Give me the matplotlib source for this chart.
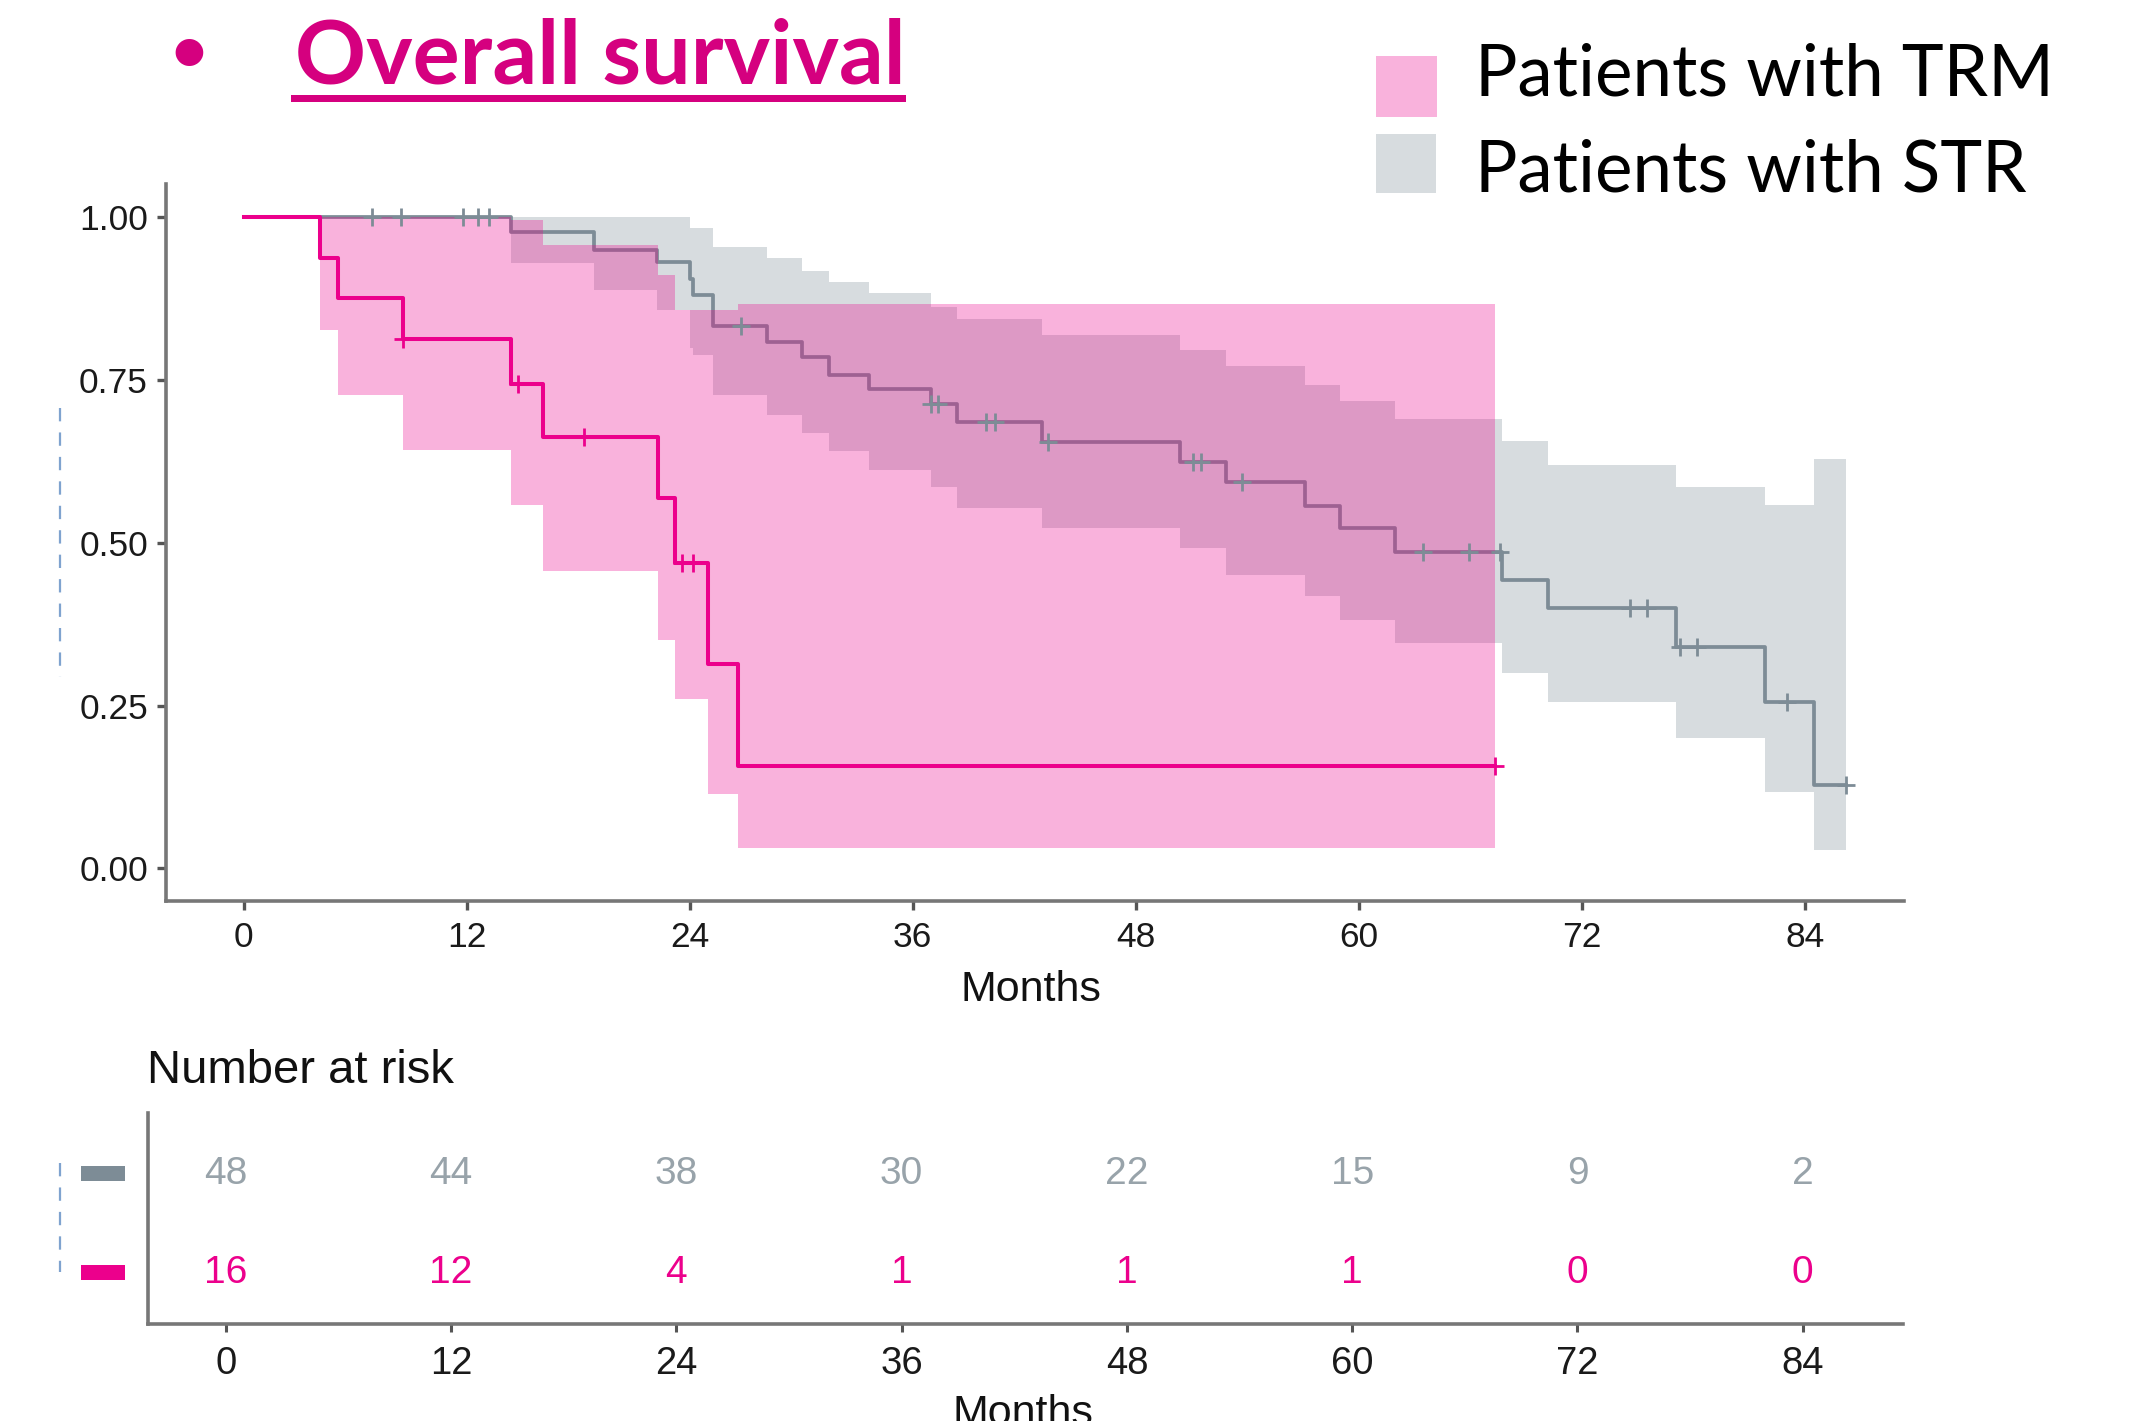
import matplotlib
matplotlib.use('Agg')
import matplotlib.pyplot as plt
from matplotlib.patches import Rectangle
from matplotlib.lines import Line2D
import numpy as np

# ---------------- data ----------------
# Patients with STR (gray)
str_times = [0, 14.37, 18.87, 22.26, 24.02, 24.2, 25.27, 28.14, 30.03, 31.51, 33.66, 36.98,
             38.36, 42.94, 50.38, 52.85, 57.1, 58.98, 61.94, 67.68, 70.18, 77.08, 81.83, 84.48]
str_surv = [1.0, 0.977, 0.950, 0.932, 0.906, 0.881, 0.8325, 0.808, 0.786, 0.758, 0.736, 0.714,
            0.685, 0.655, 0.625, 0.594, 0.557, 0.5226, 0.4867, 0.443, 0.400, 0.3406, 0.256, 0.128]
str_upper = [1.0, 1.0, 1.0, 1.0, 0.984, 0.984, 0.9545, 0.9376, 0.918, 0.9007, 0.884, 0.862,
             0.844, 0.8197, 0.797, 0.772, 0.743, 0.718, 0.6906, 0.657, 0.620, 0.586, 0.558, 0.629]
str_lower = [1.0, 0.930, 0.889, 0.858, 0.800, 0.789, 0.7275, 0.697, 0.6686, 0.6404, 0.6122, 0.5866,
             0.5533, 0.5226, 0.4918, 0.4508, 0.419, 0.3816, 0.3458, 0.3007, 0.256, 0.1998, 0.1178, 0.028]
str_end = 86.18
str_cens_t = [6.9, 8.45, 11.8, 12.6, 13.2, 26.74, 37.0, 37.38, 39.92, 40.42, 43.3, 51.1, 51.5,
              53.7, 63.45, 65.95, 67.6, 74.57, 75.51, 77.3, 78.2, 83.02, 86.18]

# Patients with TRM (magenta)
trm_times = [0, 4.11, 5.10, 8.60, 14.37, 16.09, 22.31, 23.21, 24.97, 26.58]
trm_surv = [1.0, 0.9376, 0.8755, 0.813, 0.744, 0.6625, 0.5697, 0.4698, 0.314, 0.157]
trm_upper = [1.0, 1.0, 1.0, 1.0, 0.996, 0.957, 0.912, 0.858, 0.858, 0.867]
trm_lower = [1.0, 0.827, 0.7275, 0.643, 0.558, 0.457, 0.351, 0.260, 0.114, 0.031]
trm_end = 67.3
trm_cens_t = [8.6, 14.79, 18.32, 23.57, 24.2, 67.3]

# Number at risk
risk_times = [0, 12, 24, 36, 48, 60, 72, 84]
risk_str = [48, 44, 38, 30, 22, 15, 9, 2]
risk_trm = [16, 12, 4, 1, 1, 1, 0, 0]

x_ticks = [0, 12, 24, 36, 48, 60, 72, 84]
y_ticks = [0.0, 0.25, 0.50, 0.75, 1.00]

title_text = "Overall survival"
legend_labels = ["Patients with TRM", "Patients with STR"]

# ---------------- style ----------------
TRM_C = '#EC008C'
STR_C = '#7D8C96'
STR_NUM_C = '#98A3AA'
TITLE_C = '#D5007F'
AX_C = '#777777'
W, H = 2133, 1421
DPI = 100

plt.rcParams['font.family'] = ['Liberation Sans', 'DejaVu Sans']

fig = plt.figure(figsize=(W / DPI, H / DPI), dpi=DPI)


def fx(x):
    return x / W


def fy(y):
    return 1 - y / H


# ---------------- main KM axes ----------------
ax = fig.add_axes([fx(166), fy(900.5), (1903.5 - 166) / W, (900.5 - 183.6) / H])
ax.set_xlim(-4.17, 89.3)
ax.set_ylim(-0.0495, 1.052)


def ext(t, v, end):
    return list(t) + [end], list(v) + [v[-1]]


def step_at(times, vals, q):
    idx = np.searchsorted(np.array(times), np.array(q), side='right') - 1
    return np.array(vals)[idx]


# STR ribbon + line
tx, lo = ext(str_times, str_lower, str_end)
_, up = ext(str_times, str_upper, str_end)
_, sv = ext(str_times, str_surv, str_end)
ax.fill_between(tx, lo, up, step='post', color=STR_C, alpha=0.3, lw=0, zorder=1)
ax.step(tx, sv, where='post', color=STR_C, lw=2.7, zorder=2)

# TRM ribbon + line
tx2, lo2 = ext(trm_times, trm_lower, trm_end)
_, up2 = ext(trm_times, trm_upper, trm_end)
_, sv2 = ext(trm_times, trm_surv, trm_end)
ax.fill_between(tx2, lo2, up2, step='post', color=TRM_C, alpha=0.3, lw=0, zorder=3)
ax.step(tx2, sv2, where='post', color=TRM_C, lw=2.9, zorder=4)

# censor marks
ax.plot(str_cens_t, step_at(str_times, str_surv, str_cens_t), ls='none', marker='+',
        ms=13, mew=2.0, color=STR_C, zorder=5)
ax.plot(trm_cens_t, step_at(trm_times, trm_surv, trm_cens_t), ls='none', marker='+',
        ms=13, mew=2.0, color=TRM_C, zorder=6)

ax.set_xticks(x_ticks)
ax.set_xticklabels([str(v) for v in x_ticks])
ax.set_yticks(y_ticks)
ax.set_yticklabels(['%.2f' % v for v in y_ticks])
for s in ['top', 'right']:
    ax.spines[s].set_visible(False)
for s in ['left', 'bottom']:
    ax.spines[s].set_color(AX_C)
    ax.spines[s].set_linewidth(2.6)
ax.tick_params(axis='both', labelsize=25.5, length=6.5, width=2.4, color='#555555',
               labelcolor='#1a1a1a')
ax.tick_params(axis='x', pad=8)
ax.tick_params(axis='y', pad=6.5)

fig.text(fx(1031), fy(990), "Months", ha='center', va='center', fontsize=31, color='#111111')

# ---------------- risk table ----------------
axt = fig.add_axes([fx(148), fy(1324), (1903 - 148) / W, (1324 - 1113) / H])
axt.set_xlim(-4.14, 89.34)
axt.set_ylim(0.485, 2.616)
for t, n in zip(risk_times, risk_str):
    axt.text(t, 2, str(n), ha='center', va='center', fontsize=28, color=STR_NUM_C)
for t, n in zip(risk_times, risk_trm):
    axt.text(t, 1, str(n), ha='center', va='center', fontsize=28, color=TRM_C)
axt.set_xticks(x_ticks)
axt.set_xticklabels([str(v) for v in x_ticks])
axt.set_yticks([])
for s in ['top', 'right']:
    axt.spines[s].set_visible(False)
for s in ['left', 'bottom']:
    axt.spines[s].set_color(AX_C)
    axt.spines[s].set_linewidth(2.6)
axt.tick_params(axis='x', labelsize=27.5, length=5.5, width=2.2, color='#555555',
                labelcolor='#1a1a1a', pad=10.5)

fig.text(fx(147), fy(1070.6), "Number at risk", ha='left', va='center', fontsize=34, color='#111111')
fig.text(fx(1023), fy(1414), "Months", ha='center', va='center', fontsize=31, color='#111111')

# strata colour strips
fig.add_artist(Rectangle((fx(81), fy(1181)), 44 / W, 15 / H, transform=fig.transFigure,
                         color=STR_C, lw=0))
fig.add_artist(Rectangle((fx(81), fy(1280)), 44 / W, 15 / H, transform=fig.transFigure,
                         color=TRM_C, lw=0))

# faint dashed artifacts at left
fig.add_artist(Line2D([fx(60), fx(60)], [fy(408), fy(677)], transform=fig.transFigure,
                      color='#7FA3CF', lw=1.6, ls=(0, (6, 5))))
fig.add_artist(Line2D([fx(60), fx(60)], [fy(1163), fy(1272)], transform=fig.transFigure,
                      color='#7FA3CF', lw=1.6, ls=(0, (6, 5))))

# ---------------- title & legend ----------------
title = fig.text(fx(295), fy(83.5), title_text, ha='left', va='baseline', fontsize=60,
                 fontweight='bold', family=['Lato', 'DejaVu Sans'], color=TITLE_C)
bullet = fig.text(fx(189), fy(71), "\u2022", ha='center', va='baseline', fontsize=40,
                  fontweight='bold', family=['Lato', 'DejaVu Sans'], color=TITLE_C)
leg1 = fig.text(fx(1475), fy(95), legend_labels[0], ha='left', va='baseline', fontsize=45,
                family=['Lato', 'DejaVu Sans'], color='black')
leg2 = fig.text(fx(1475), fy(191.7), legend_labels[1], ha='left', va='baseline', fontsize=45,
                family=['Lato', 'DejaVu Sans'], color='black')


def fit_width(t, target):
    for _ in range(2):
        fig.canvas.draw()
        r = fig.canvas.get_renderer()
        bb = t.get_window_extent(r)
        t.set_fontsize(t.get_fontsize() * target / bb.width)


fit_width(title, 611)
bullet.set_fontsize(title.get_fontsize() * 0.72)
fit_width(leg1, 579)
leg2.set_fontsize(leg1.get_fontsize())

# underline
fig.add_artist(Rectangle((fx(291), fy(101.7)), (906 - 291) / W, 6.7 / H,
                         transform=fig.transFigure, color=TITLE_C, lw=0))

# legend squares
fig.add_artist(Rectangle((fx(1376), fy(117)), 61 / W, 61 / H, transform=fig.transFigure,
                         color=TRM_C, alpha=0.3, lw=0))
fig.add_artist(Rectangle((fx(1376), fy(193)), 60 / W, 59 / H, transform=fig.transFigure,
                         color=STR_C, alpha=0.3, lw=0))

fig.savefig('out.png', dpi=DPI)
